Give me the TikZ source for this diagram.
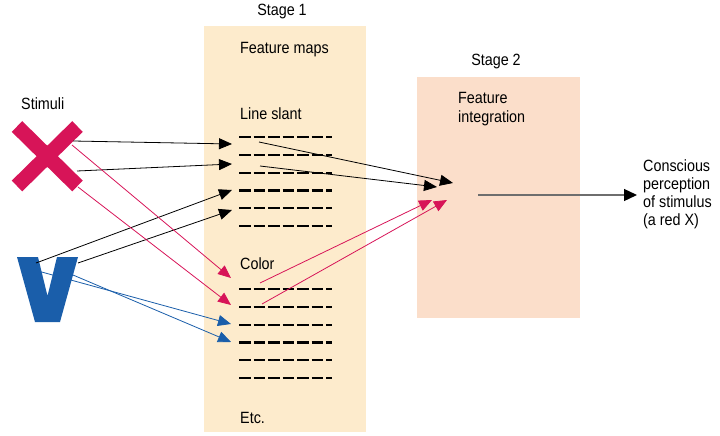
\documentclass[tikz,border=0pt]{standalone}
\usepackage{fontspec}
\setmainfont{Liberation Sans}[FakeStretch=0.88]
\usepackage{xcolor}
\usetikzlibrary{arrows.meta}
\definecolor{stageone}{RGB}{253,235,204}
\definecolor{stagetwo}{RGB}{251,222,202}
\definecolor{xred}{RGB}{215,20,88}
\definecolor{vblue}{RGB}{26,94,170}
\definecolor{outgray}{RGB}{110,110,110}

\begin{document}
\begin{tikzpicture}[x=1pt, y=-1pt,
    txt/.style={anchor=base west, inner sep=0pt,
      font=\fontsize{16.3}{18.5}\selectfont},
    mapline/.style={line width=2.2pt, dash pattern=on 11.8pt off 2.7pt},
    link/.style={-{Triangle[length=13pt,width=11pt]}, line width=0.8pt}]

    \useasboundingbox (0,0) rectangle (720,436);

    % stages
    \fill [stageone] (204,26) rectangle (366,432);
    \fill [stagetwo] (417,77) rectangle (580,318);

    \node [txt, anchor=base] (stage1) at (282,16) {Stage 1};
    \node [txt, anchor=base] (stage2) at (496,66) {Stage 2};
    \node [txt] (maps) at (240,53) {Feature maps};
    \node [txt] (slant) at (240,119) {Line slant};
    \node [txt] (color) at (240,269) {Color};
    \node [txt] (etc) at (240,423) {Etc.};
    \node [txt] (integ) at (458,103) {Feature};
    \node [txt] (integ2) at (458,122) {integration};
    \node [txt] (stimuli) at (21,109) {Stimuli};

    \foreach \i in {0,...,5} {
      \draw [mapline] (239,{137+17.8*\i}) -- +(93,0);
      \draw [mapline] (239,{289+17.8*\i}) -- +(93,0);
    }

    % stimuli
    \draw [xred, line width=15pt] (17,126.5) -- (77.5,186)
      (77.5,126.5) -- (17,186);
    \fill [vblue] (17,257) -- (38,257) -- (47.5,296) -- (57,257)
      -- (78,257) -- (60,322) -- (35,322) -- cycle;

    \coordinate (xa) at (73,141);
    \coordinate (xb) at (77,171);
    \coordinate (xc) at (72,145);
    \coordinate (xd) at (78,187);
    \coordinate (va) at (36,263);
    \coordinate (vb) at (78,263);
    \coordinate (vc) at (38,271);
    \coordinate (vd) at (73,275);

    \coordinate (s1) at (232,144);
    \coordinate (s2) at (232,164);
    \coordinate (s3) at (232,190);
    \coordinate (s4) at (232,210);
    \coordinate (c1) at (231,278);
    \coordinate (c2) at (231,305);
    \coordinate (c3) at (231,324);
    \coordinate (c4) at (231,342);

    \coordinate (so1) at (259,142);
    \coordinate (so2) at (260,166);
    \coordinate (co1) at (260,283);
    \coordinate (co2) at (262,304);
    \coordinate (i1) at (453,183);
    \coordinate (i2) at (437,187);
    \coordinate (i3) at (432,200);
    \coordinate (i4) at (447,200);

    \draw [link] (xa) -- (s1);
    \draw [link] (xb) -- (s2);
    \draw [link] (va) -- (s3);
    \draw [link] (vb) -- (s4);
    \draw [link, xred] (xc) -- (c1);
    \draw [link, xred] (xd) -- (c2);
    \draw [link, vblue] (vc) -- (c3);
    \draw [link, vblue] (vd) -- (c4);

    \draw [link] (so1) -- (i1);
    \draw [link] (so2) -- (i2);
    \draw [link, xred] (co1) -- (i3);
    \draw [link, xred] (co2) -- (i4);

    % output
    \coordinate (out) at (478,195);
    \coordinate (outend) at (637,195);
    \node [txt] (percept) at (643,171) {Conscious};
    \node [txt] at (643,189) {perception};
    \node [txt] at (643,207) {of stimulus};
    \node [txt] at (643,225) {(a red X)};
    \draw [outgray, line width=1.3pt, -{Triangle[length=13pt,width=12pt,black]}]
      (out) -- (outend);

  \end{tikzpicture}
\end{document}
